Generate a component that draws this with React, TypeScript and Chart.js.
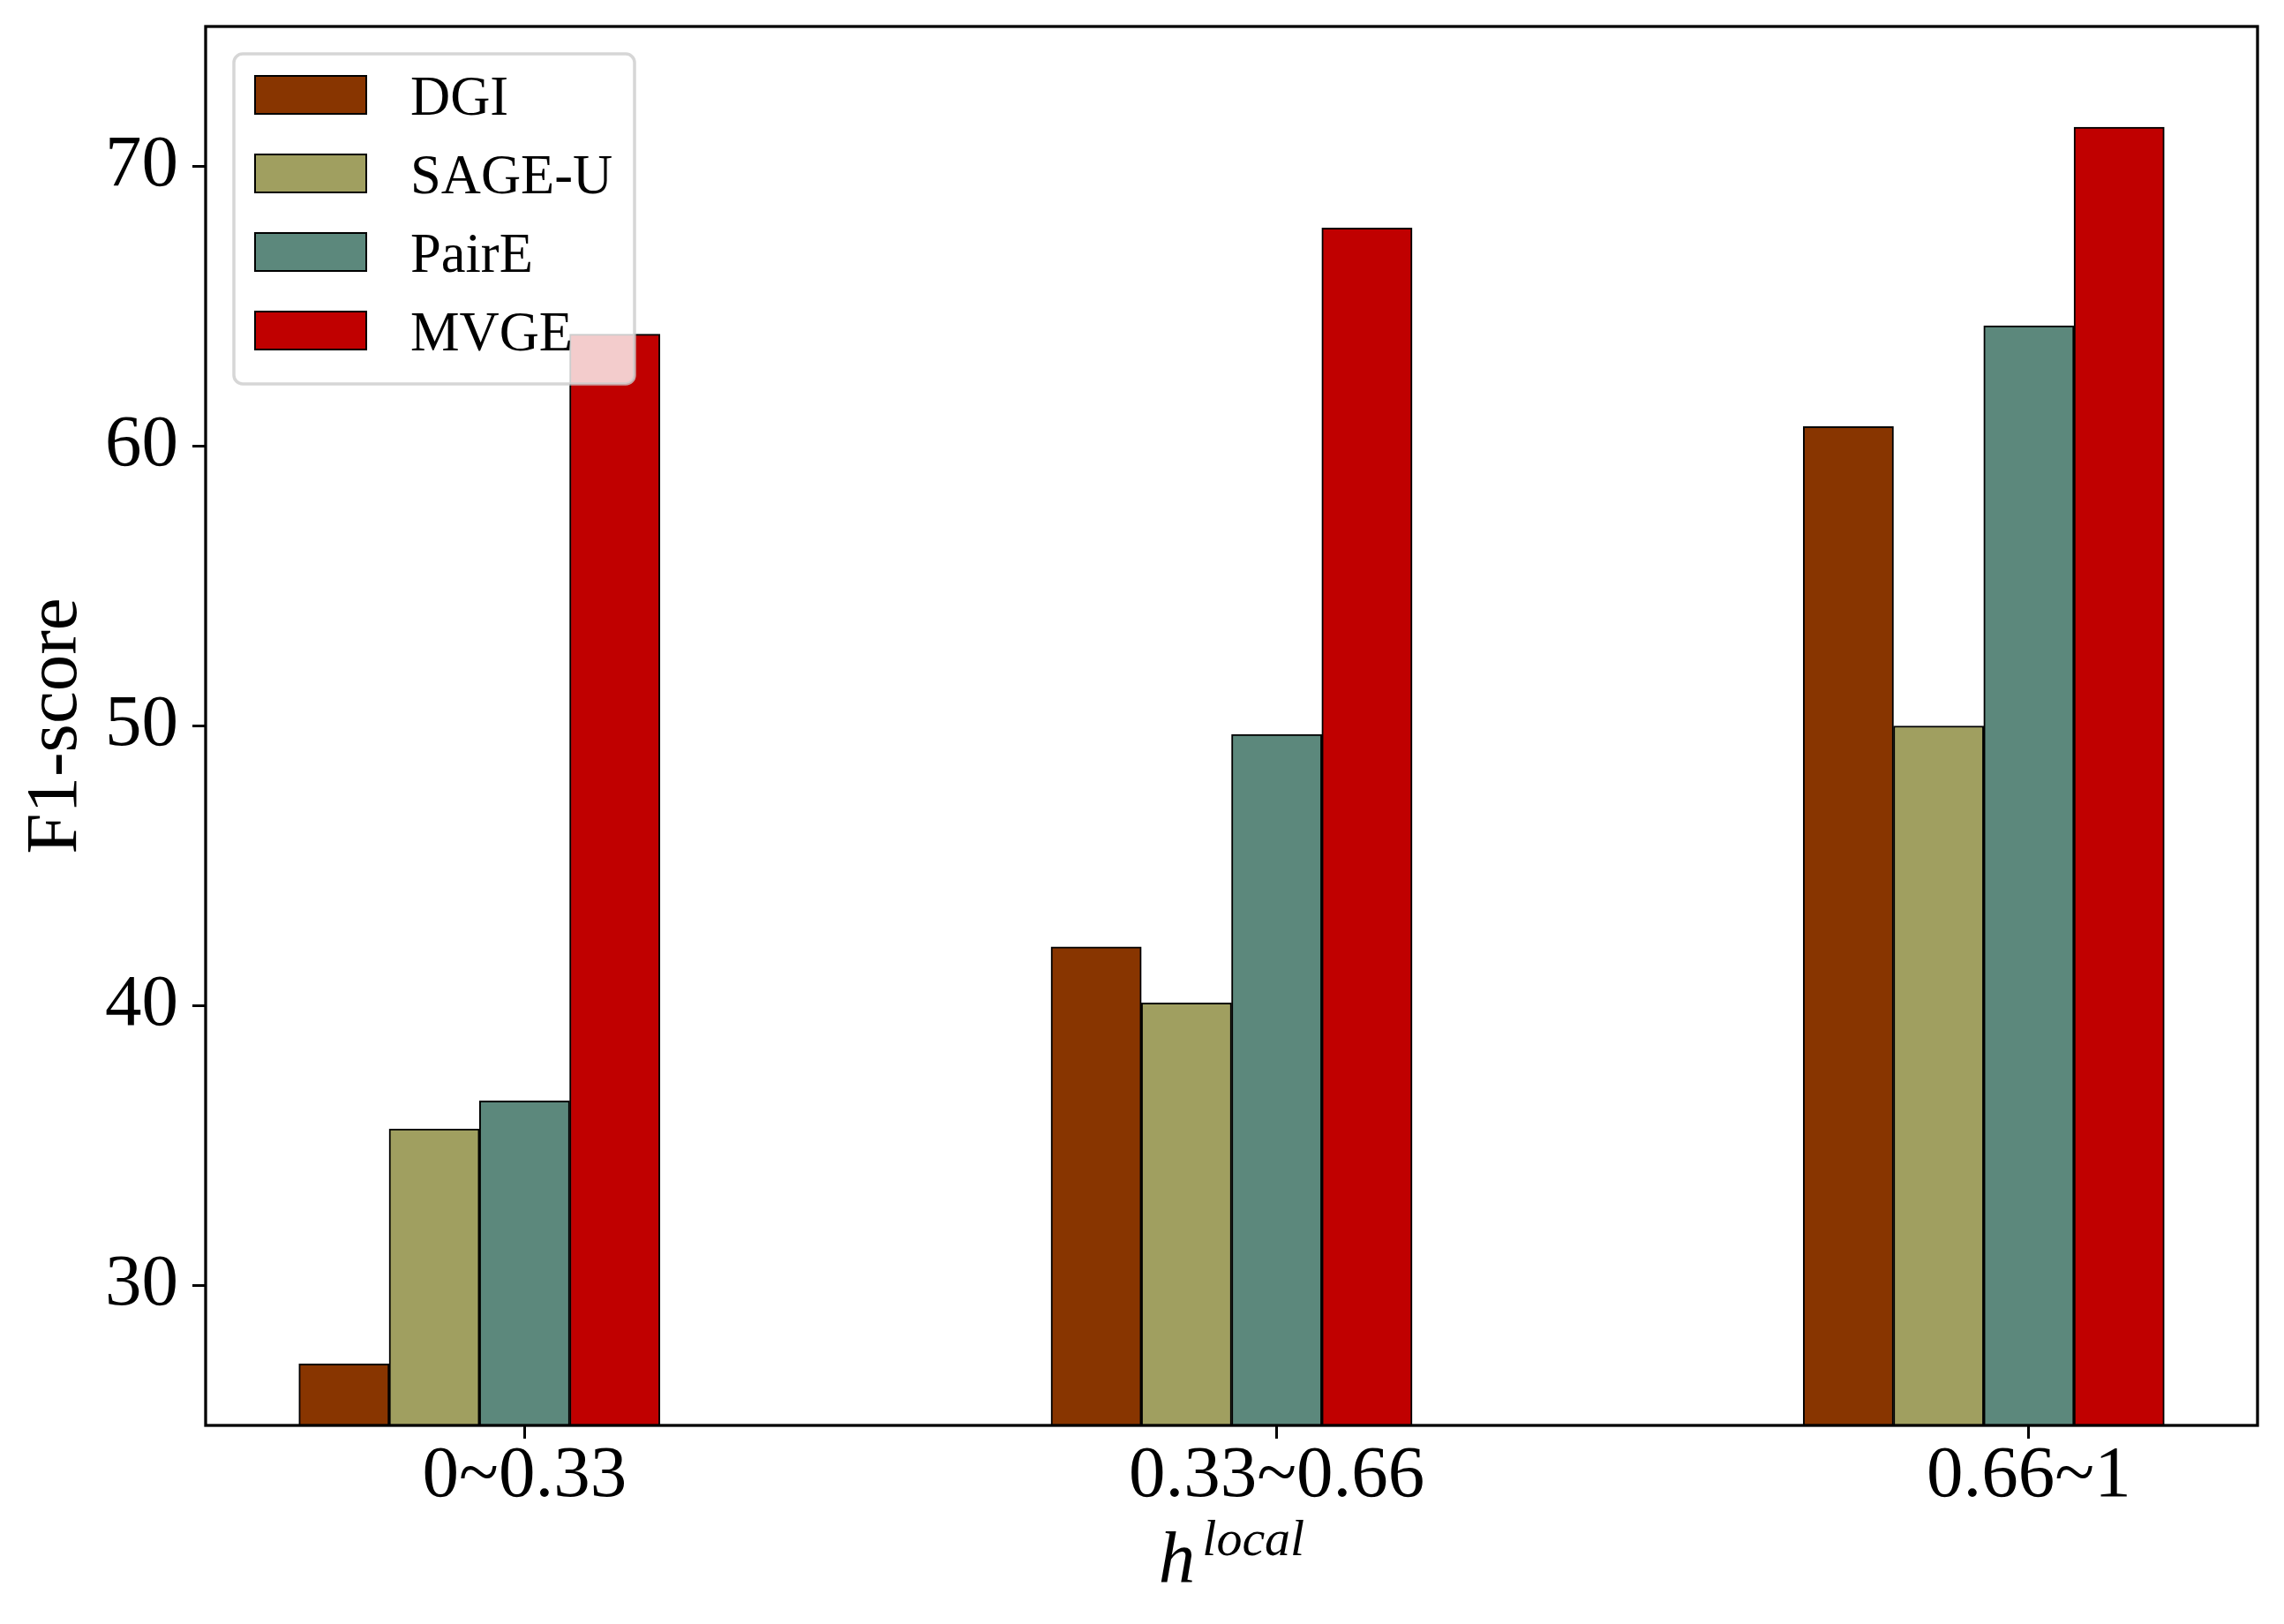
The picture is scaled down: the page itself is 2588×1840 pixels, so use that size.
import { useEffect, useRef } from "react"
import { Chart, registerables } from "chart.js"

Chart.register(...registerables)

// Chart data
const categories = ["0~0.33", "0.33~0.66", "0.66~1"]
const seriesNames = ["DGI", "SAGE-U", "PairE", "MVGE"]
const dgi = [27.2, 42.1, 60.7]
const sageU = [35.6, 40.1, 50.0]
const pairE = [36.6, 49.7, 64.3]
const mvge = [64.0, 67.8, 71.4]
const yTicks = [30, 40, 50, 60, 70]
const seriesColors = ["#883500", "#a09f60", "#5c887c", "#c00000"]

const BAR_W = 0.12
const FONT = '"Liberation Serif", "Times New Roman", serif'

// frame, legend and axis titles drawn the matplotlib way
const decorPlugin = {
  id: "decor",
  afterDatasetsDraw(chart: Chart) {
    const { ctx, chartArea } = chart
    const { left, top, right, bottom } = chartArea
    ctx.save()
    ctx.strokeStyle = "#000"
    ctx.lineWidth = 3.3
    ctx.strokeRect(left, top, right - left, bottom - top)

    // legend box
    const lx = left + 32
    const ly = top + 31
    ctx.beginPath()
    ctx.roundRect(lx, ly, 454, 374, 10)
    ctx.fillStyle = "rgba(255,255,255,0.8)"
    ctx.fill()
    ctx.lineWidth = 3.5
    ctx.strokeStyle = "rgba(204,204,204,0.8)"
    ctx.stroke()

    ctx.font = `62.5px ${FONT}`
    ctx.textAlign = "left"
    ctx.textBaseline = "alphabetic"
    seriesNames.forEach((name, i) => {
      const py = top + 56 + 89 * i
      ctx.fillStyle = seriesColors[i]
      ctx.fillRect(left + 56, py, 126, 43)
      ctx.lineWidth = 2
      ctx.strokeStyle = "#000"
      ctx.strokeRect(left + 56, py, 126, 43)
      ctx.fillStyle = "#000"
      ctx.fillText(name, left + 232, top + 100 + 89 * i)
    })
    ctx.restore()
  },
  afterDraw(chart: Chart) {
    const { ctx, chartArea } = chart
    const { left, top, right, bottom } = chartArea
    ctx.save()
    ctx.fillStyle = "#000"
    ctx.textBaseline = "alphabetic"

    // y title
    ctx.save()
    ctx.translate(86, (top + bottom) / 2)
    ctx.rotate(-Math.PI / 2)
    ctx.textAlign = "center"
    ctx.font = `83px ${FONT}`
    ctx.fillText("F1-score", 0, 0)
    ctx.restore()

    // x title: h^{local}
    ctx.textAlign = "left"
    ctx.font = `italic 83px ${FONT}`
    const wh = ctx.measureText("h").width
    ctx.font = `italic 58px ${FONT}`
    const wl = ctx.measureText("local").width
    const gap = 8
    const sx = (left + right) / 2 - (wh + gap + wl) / 2
    ctx.font = `italic 83px ${FONT}`
    ctx.fillText("h", sx, bottom + 177)
    ctx.font = `italic 58px ${FONT}`
    ctx.fillText("local", sx + wh + gap, bottom + 147)
    ctx.restore()
  },
}

export default function App() {
  const canvasRef = useRef<HTMLCanvasElement>(null)
  const chartRef = useRef<Chart | null>(null)

  useEffect(() => {
    document.body.style.margin = "0"
    if (!canvasRef.current) return
    if (chartRef.current) chartRef.current.destroy()

    const values = [dgi, sageU, pairE, mvge]
    const tickFont = { family: FONT, size: 83, lineHeight: 1 }
    const axisGrid = {
      display: true,
      drawOnChartArea: false,
      drawTicks: true,
      tickLength: 15,
      tickWidth: 3,
      tickColor: "#000",
      offset: false,
    }

    chartRef.current = new Chart(canvasRef.current, {
      type: "bar",
      data: {
        datasets: values.map((vals, s) => ({
          label: seriesNames[s],
          data: vals.map((v, i) => ({ x: i + (s - 2) * BAR_W, y: v })),
          backgroundColor: seriesColors[s],
          borderColor: "#000",
          borderWidth: 2,
          borderSkipped: false,
          grouped: false,
          barPercentage: 1,
          categoryPercentage: 1,
        })),
      },
      options: {
        responsive: false,
        animation: false,
        devicePixelRatio: 1,
        layout: { padding: { top: 30, right: 30, left: 0, bottom: 0 } },
        plugins: {
          legend: { display: false },
          tooltip: { enabled: false },
        },
        scales: {
          x: {
            type: "linear",
            min: -0.424,
            max: 2.304,
            offset: false,
            grid: axisGrid,
            border: { display: false },
            ticks: {
              autoSkip: false,
              maxRotation: 0,
              padding: 2,
              color: "#000",
              font: tickFont,
              callback: (v) => categories[Math.round(Number(v))] ?? "",
            },
            afterBuildTicks: (scale) => {
              scale.ticks = categories.map((_, i) => ({ value: i }))
            },
            afterFit: (scale) => {
              scale.height = 225
              scale.paddingLeft = 0
              scale.paddingRight = 0
            },
          },
          y: {
            min: 25,
            max: 75,
            grid: axisGrid,
            border: { display: false },
            ticks: { padding: 16, color: "#000", font: tickFont },
            afterBuildTicks: (scale) => {
              scale.ticks = yTicks.map((v) => ({ value: v }))
            },
            afterFit: (scale) => {
              scale.width = 233
              scale.paddingTop = 0
              scale.paddingBottom = 0
            },
          },
        },
      },
      plugins: [decorPlugin],
    } as any)

    return () => {
      if (chartRef.current) {
        chartRef.current.destroy()
        chartRef.current = null
      }
    }
  }, [])

  return (
    <div style={{ width: 2588, height: 1840, background: "#fff" }}>
      <canvas ref={canvasRef} width={2588} height={1840} style={{ display: "block" }} />
    </div>
  )
}
